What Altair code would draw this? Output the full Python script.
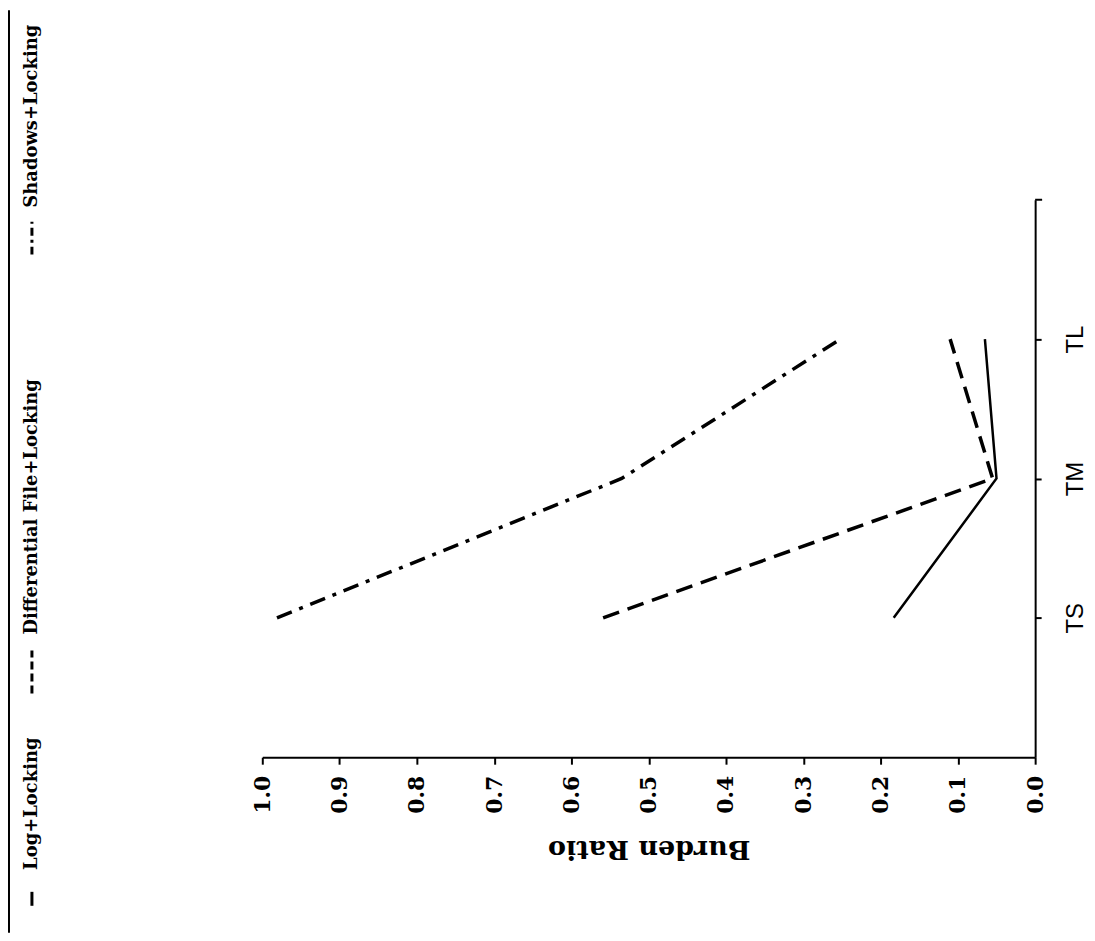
import altair as alt
import pandas as pd

# ---- data ----
categories = ["TS", "TM", "TL"]
series_names = ["Log+Locking", "Differential File+Locking", "Shadows+Locking"]
log_locking = [0.183, 0.050, 0.065]
differential_locking = [0.559, 0.055, 0.110]
shadows_locking = [0.981, 0.535, 0.252]
ratio_ticks = [0.0, 0.1, 0.2, 0.3, 0.4, 0.5, 0.6, 0.7, 0.8, 0.9, 1.0]

series_values = [log_locking, differential_locking, shadows_locking]
rows = []
for name, vals in zip(series_names, series_values):
    for i, (cat, v) in enumerate(zip(categories, vals)):
        rows.append({"series": name, "config": cat, "idx": i, "ratio": v})
df = pd.DataFrame(rows)

W, H = 775, 559
SERIF = "DejaVu Serif"

x_enc = alt.X(
    "ratio:Q",
    scale=alt.Scale(domain=[0, 1], reverse=True, nice=False, zero=False),
    axis=alt.Axis(
        values=ratio_ticks, format=".1f", grid=False,
        labelAngle=270, labelAlign="right", labelBaseline="middle",
        labelFont=SERIF, labelFontWeight="bold", labelFontSize=22,
        labelPadding=11, labelColor="black",
        tickSize=7, tickWidth=2, tickColor="black",
        domainColor="black", domainWidth=2,
        title="Burden Ratio", titleAngle=180, titleFont=SERIF,
        titleFontWeight="bold", titleFontSize=27, titleColor="black",
        titleBaseline="middle", titleY=92,
    ),
)
y_enc = alt.Y(
    "config:N",
    sort=categories[::-1],
    scale=alt.Scale(type="point", padding=1, domain=categories[::-1]),
    axis=alt.Axis(
        orient="right", title=None, grid=False,
        labelAngle=270, labelAlign="center", labelBaseline="top",
        labelFont="Liberation Sans", labelFontSize=24, labelColor="black",
        labelPadding=22,
        tickSize=6, tickWidth=2, tickColor="black",
        domainColor="black", domainWidth=2,
    ),
)

base = alt.Chart(df)
styles = [
    dict(strokeWidth=2.5),
    dict(strokeWidth=3.5, strokeDash=[17, 9]),
    dict(strokeWidth=3.5, strokeDash=[16, 8, 4, 8]),
]
layers = []
for name, st in zip(series_names, styles):
    layers.append(
        base.transform_filter(alt.datum.series == name)
        .mark_line(color="black", **st)
        .encode(x=x_enc, y=y_enc, order=alt.Order("idx:Q"))
    )

one = pd.DataFrame({"k": [0]})

# top end tick of the right axis
layers.append(
    alt.Chart(one).mark_rule(color="black", strokeWidth=2)
    .encode(x=alt.value(W), x2=alt.value(W + 7), y=alt.value(0))
)

# legend (rotated, at the left side)
layers.append(
    alt.Chart(one).mark_rule(color="black", strokeWidth=2)
    .encode(x=alt.value(-254), y=alt.value(-190), y2=alt.value(735))
)
legend_sym_start = [708, 495, 55]
legend_sym_len = [14, 43, 33]
legend_sym_dash = [None, [8, 4], [8, 4, 3, 4]]
legend_text_gap = [22, 16, 14]
LX = -231
for name, y0, ln, dash, gap in zip(series_names, legend_sym_start, legend_sym_len,
                                   legend_sym_dash, legend_text_gap):
    kw = dict(color="black", strokeWidth=3)
    if dash:
        kw["strokeDash"] = dash
    layers.append(
        alt.Chart(one).mark_rule(**kw)
        .encode(x=alt.value(LX), y=alt.value(y0), y2=alt.value(y0 - ln))
    )
    layers.append(
        alt.Chart(pd.DataFrame({"label": [name]}))
        .mark_text(angle=270, align="left", baseline="middle", font=SERIF,
                   fontWeight="bold", fontSize=18, color="black")
        .encode(text="label:N", x=alt.value(LX), y=alt.value(y0 - ln - gap))
    )

chart = (
    alt.layer(*layers)
    .properties(width=W, height=H, padding=0, background="white")
    .configure_view(stroke=None)
)

chart.save("out.html", embed_options={"renderer": "svg", "actions": False})
